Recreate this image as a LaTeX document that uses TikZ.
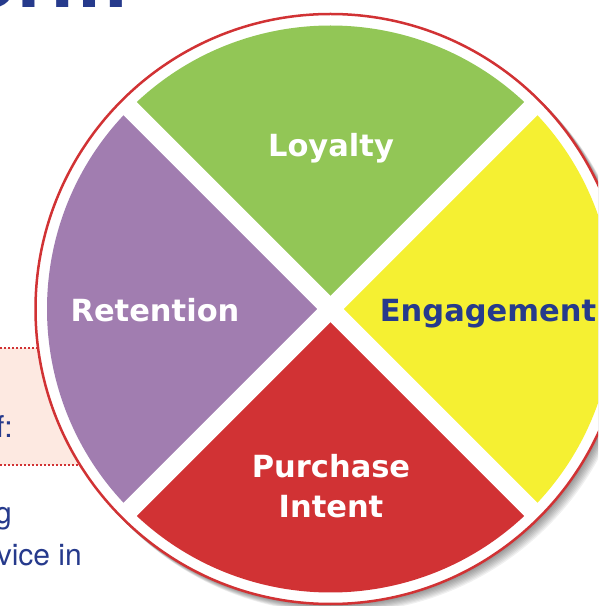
\documentclass[tikz,border=0pt]{standalone}
\usepackage{fontspec}
\setmainfont{TeX Gyre Heros}
\newfontfamily\wheelfont{DejaVu Sans}
\usetikzlibrary{calc}
\definecolor{wheelred}{RGB}{209,50,52}
\definecolor{loyalgreen}{RGB}{146,198,86}
\definecolor{engageyellow}{RGB}{245,240,50}
\definecolor{retainpurple}{RGB}{161,125,176}
\definecolor{textblue}{RGB}{38,58,140}
\definecolor{boxpink}{RGB}{253,233,225}
\tikzset{
	wheel label/.style={font=\wheelfont\fontsize{30.5}{40}\selectfont\bfseries, inner sep=0, anchor=base, align=center},
	side text/.style={font=\fontsize{30}{36}\selectfont, text=textblue, inner sep=0, anchor=base east},
	title text/.style={font=\fontsize{86}{90}\selectfont\bfseries, text=textblue, inner sep=0, anchor=base west},
	dot rule/.style={wheelred, line width=1.5pt, dash pattern=on 1.5pt off 2.5pt},
}

\begin{document}
\begin{tikzpicture}[x=1pt, y=1pt]
	\useasboundingbox (0,0) rectangle (598,606);
	\clip (0,0) rectangle (598,606);

	\node[title text] (title) at (-35,598) {orm};

	\fill[boxpink] (-5,141) rectangle (250,258);
	\draw[dot rule] (0,258) -- (250,258);
	\draw[dot rule] (0,141) -- (250,141);
	\node[side text] (boxtext) at (13,168) {f:};
	\node[side text] (linea) at (12,82) {g};
	\node[side text] (lineb) at (82,41) {vice in};

	\coordinate (c) at (330.5,297);
	\foreach \s in {1,...,8}
		\fill[black, opacity=0.06] ($(c)+(\s,-\s)$) circle (296);
	\filldraw[fill=white, draw=wheelred, line width=2.5pt] (c) circle (295);

	\foreach \ang/\col in {45/loyalgreen, 135/retainpurple, 225/wheelred, 315/engageyellow}
		\fill[\col] (c) -- ++(\ang:283.5) arc[start angle=\ang, delta angle=90, radius=283.5] -- cycle;
	\draw[white, line width=18.5pt] (c) ++(45:290) -- ++(225:580);
	\draw[white, line width=18.5pt] (c) ++(135:290) -- ++(315:580);

	\node[wheel label, text=white] (loyalty) at (331,449) {Loyalty};
	\node[wheel label, text=white] (retention) at (155,284) {Retention};
	\node[wheel label, text=textblue] (engagement) at (488,284) {Engagement};
	\node[wheel label, text=white] (purchase) at (331,88) {Purchase\\Intent};
\end{tikzpicture}
\end{document}
